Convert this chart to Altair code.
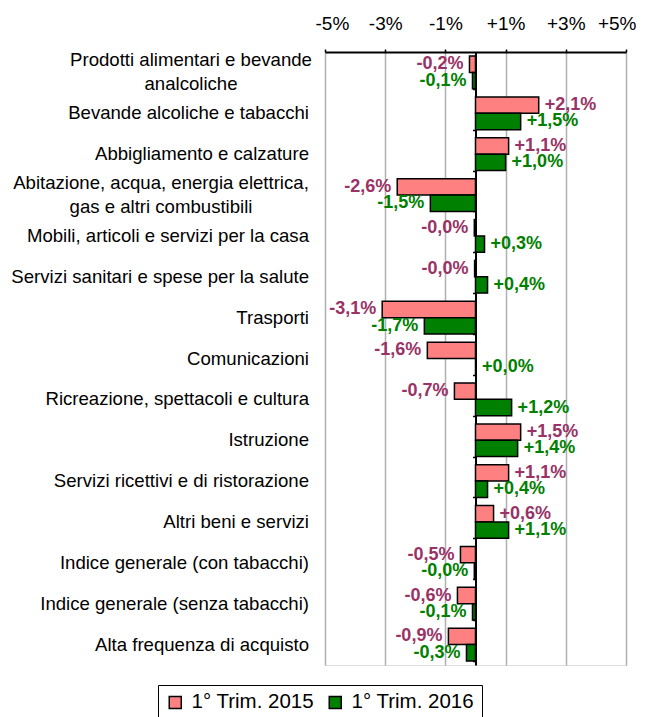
import altair as alt
import pandas as pd

categories = [
    "Prodotti alimentari e bevande\nanalcoliche",
    "Bevande alcoliche e tabacchi",
    "Abbigliamento e calzature",
    "Abitazione, acqua, energia elettrica,\ngas e altri combustibili",
    "Mobili, articoli e servizi per la casa",
    "Servizi sanitari e spese per la salute",
    "Trasporti",
    "Comunicazioni",
    "Ricreazione, spettacoli e cultura",
    "Istruzione",
    "Servizi ricettivi e di ristorazione",
    "Altri beni e servizi",
    "Indice generale (con tabacchi)",
    "Indice generale (senza tabacchi)",
    "Alta frequenza di acquisto",
]
series = ["1° Trim. 2015", "1° Trim. 2016"]
values_2015 = [-0.2, 2.1, 1.1, -2.6, -0.04, -0.03, -3.1, -1.6, -0.7, 1.5, 1.1, 0.6, -0.5, -0.6, -0.9]
values_2016 = [-0.1, 1.5, 1.0, -1.5, 0.3, 0.4, -1.7, 0.02, 1.2, 1.4, 0.4, 1.1, -0.04, -0.1, -0.3]
x_ticks = [-5, -3, -1, 1, 3, 5]

bar_colors = ["#FF8080", "#008000"]
label_colors = ["#993366", "#008000"]
FONT = "Liberation Sans"
CAT_SIZE = 18.6


def fmt(v):
    sign = "+" if v >= 0 else "-"
    return sign + f"{abs(v):.1f}".replace(".", ",") + "%"


rows = []
for i, c in enumerate(categories):
    for s, vals in zip(series, [values_2015, values_2016]):
        rows.append({"cat": c, "series": s, "value": vals[i], "label": fmt(vals[i])})
df = pd.DataFrame(rows)
cats_df = pd.DataFrame({"cat": categories})

y_enc = alt.Y(
    "cat:N",
    sort=categories,
    scale=alt.Scale(domain=categories, paddingInner=0.2, paddingOuter=0.1),
    axis=alt.Axis(
        orient="left", offset=-150.5, labels=False, title=None,
        domain=True, domainColor="black", domainWidth=2,
        ticks=True, tickColor="black", tickSize=3, tickWidth=1.5,
        tickBand="extent", grid=False,
    ),
)
x_enc = alt.X(
    "value:Q",
    scale=alt.Scale(domain=[-5, 5], nice=False, zero=False),
    axis=alt.Axis(
        orient="top", values=x_ticks, title=None,
        labelExpr="(datum.value > 0 ? '+' : '') + datum.value + '%'",
        labelFontSize=19, labelFont=FONT, labelColor="black", labelPadding=16,
        labelFlush=True, labelFlushOffset=10, labelOverlap=False,
        tickSize=3, tickColor="black", tickWidth=1.5,
        domainColor="black", domainWidth=2,
        grid=True, gridColor="#b0b0b0", gridWidth=1.5,
    ),
)
yoff = alt.YOffset("series:N", sort=series, scale=alt.Scale(domain=series, paddingInner=0, paddingOuter=0))

bars = alt.Chart(df).mark_bar(stroke="black", strokeWidth=1.5).encode(
    x=x_enc,
    y=y_enc,
    yOffset=yoff,
    color=alt.Color(
        "series:N",
        scale=alt.Scale(domain=series, range=bar_colors),
        legend=alt.Legend(
            title=None, orient="none", legendX=-167, legendY=633,
            direction="horizontal", strokeColor="black", padding=7,
            fillColor="white",
            labelFontSize=20.5, labelFont=FONT, labelColor="black",
            symbolType="square", symbolSize=144, symbolStrokeColor="black",
            symbolStrokeWidth=1.5, columnPadding=10, labelOffset=6,
        ),
    ),
)

label_color = alt.condition(
    f"datum.series == '{series[0]}'", alt.value(label_colors[0]), alt.value(label_colors[1])
)

pos_labels = alt.Chart(df).transform_filter("datum.value >= 0").mark_text(
    align="left", baseline="middle", dx=6, fontSize=18, fontWeight="bold", font=FONT
).encode(x=x_enc, y=y_enc, yOffset=yoff, text="label:N", color=label_color)

neg_labels = alt.Chart(df).transform_filter("datum.value < 0").mark_text(
    align="right", baseline="middle", dx=-6, fontSize=18, fontWeight="bold", font=FONT
).encode(x=x_enc, y=y_enc, yOffset=yoff, text="label:N", color=label_color)

single_cats = alt.Chart(cats_df).transform_filter(
    "indexof(datum.cat, '\\n') < 0"
).mark_text(
    align="right", baseline="middle", fontSize=CAT_SIZE, font=FONT, color="black"
).encode(y=y_enc, x=alt.value(-16), text="cat:N")

multi1 = alt.Chart(cats_df).transform_filter(
    alt.FieldEqualPredicate(field="cat", equal=categories[0])
).mark_text(
    align="center", baseline="middle", fontSize=CAT_SIZE, font=FONT, color="black",
    lineBreak="\n", lineHeight=24, dy=-12,
).encode(y=y_enc, x=alt.value(-134), text="cat:N")

multi2 = alt.Chart(cats_df).transform_filter(
    alt.FieldEqualPredicate(field="cat", equal=categories[3])
).mark_text(
    align="center", baseline="middle", fontSize=CAT_SIZE, font=FONT, color="black",
    lineBreak="\n", lineHeight=24, dy=-12,
).encode(y=y_enc, x=alt.value(-164), text="cat:N")

chart = alt.layer(bars, pos_labels, neg_labels, single_cats, multi1, multi2).properties(
    width=301,
    height=613,
    autosize=alt.AutoSizeParams(type="none"),
    padding={"left": 317, "top": 44, "right": 11, "bottom": 60},
).configure_view(
    stroke="#808080", strokeWidth=2
).configure(font=FONT)

chart.save("out.html", embed_options={"renderer": "svg", "actions": False})
